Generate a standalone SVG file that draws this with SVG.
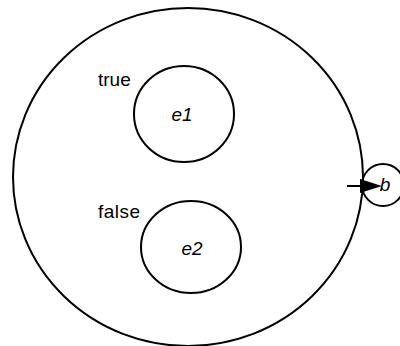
<svg xmlns="http://www.w3.org/2000/svg" width="400" height="346" viewBox="0 0 400 346">
<style>
.n{fill:none;stroke:#000;stroke-width:2}
.t{font-family:"Liberation Sans",Arial,sans-serif;font-size:19px;fill:#000}
.i{font-style:italic}
</style>
<rect width="400" height="346" fill="#fff"/>
<g id="outer"><ellipse class="n" cx="188" cy="177" rx="175" ry="169"/></g>
<g id="e1"><ellipse class="n" cx="184" cy="114" rx="50" ry="48"/><text class="t i" x="182" y="121" text-anchor="middle">e1</text></g>
<g id="e2"><ellipse class="n" cx="191" cy="247" rx="50" ry="46"/><text class="t i" x="192" y="255" text-anchor="middle">e2</text></g>
<g id="true"><text class="t" x="98" y="86">true</text></g>
<g id="false"><text class="t" x="98" y="218" textLength="42">false</text></g>
<g id="b"><circle class="n" cx="383" cy="185" r="21"/><text class="t i" x="385" y="191" text-anchor="middle">b</text></g>
<g id="connectors">
<line x1="347" y1="186" x2="369" y2="186" stroke="#000" stroke-width="2"/>
<path d="M360,179 L382,186 L360,193 Z" fill="#000"/>
</g>
</svg>
